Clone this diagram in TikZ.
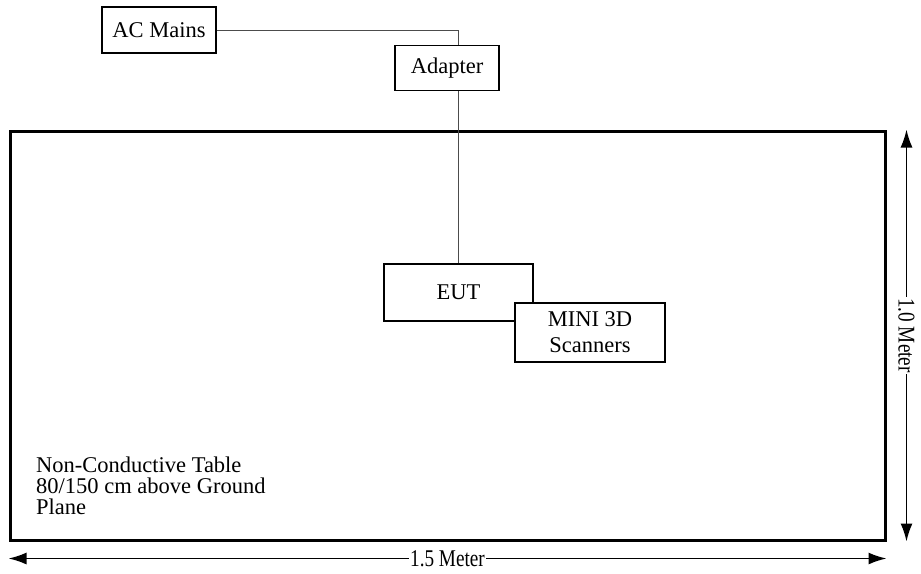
\documentclass[tikz,border=0pt]{standalone}
\usepackage{fontspec}
\setmainfont{Liberation Serif}
\newfontfamily\narrowfont[FakeStretch=0.8]{Liberation Serif}
\usetikzlibrary{arrows.meta, positioning}

\begin{document}
\begin{tikzpicture}[x=1pt, y=-1pt,
    unit/.style={rectangle, draw=black, line width=1.4pt, fill=white, align=center, inner sep=0pt, font=\fontsize{22.5}{26}\selectfont},
    table/.style={rectangle, draw=black, line width=3pt, inner sep=0pt},
    note/.style={align=left, inner sep=0pt, font=\fontsize{22.5}{21}\selectfont},
    wire/.style={draw=black!70, line width=0.9pt},
    dim/.style={{Latex[length=18pt,width=12pt]}-{Latex[length=18pt,width=12pt]}, line width=1.7pt},
    dimlabel/.style={fill=white, inner sep=1pt, font=\narrowfont\fontsize{24}{24}\selectfont}
]
    \useasboundingbox (0,0) rectangle (921,573);

    % the table
    \node[table, minimum width=875pt, minimum height=409pt] (table) at (447.5,335.5) {};
    \node[note, anchor=base west] (tablenote) at (36,514) {Non-Conductive Table\\80/150 cm above Ground\\Plane};

    % units
    \node[unit, minimum width=114pt, minimum height=46pt] (mains) at (159,30) {AC Mains};
    \node[unit, minimum width=104pt, minimum height=45pt] (adapter) at (447,68) {Adapter};
    \node[unit, minimum width=149pt, minimum height=57pt] (eut) at (458.5,292.5) {EUT};

    % cables
    \draw[wire] (mains.east) -| (eut.north |- adapter.north);
    \draw[wire] (eut.north |- adapter.south) -- (eut.north);

    \node[unit, minimum width=150pt, minimum height=59pt] (scanner) at (590,332.5) {MINI 3D\\Scanners};

    % dimensions
    \coordinate (widthstart) at ([yshift=-17pt]table.south west);
    \coordinate (widthend) at ([yshift=-17pt]table.south east);
    \coordinate (depthstart) at ([xshift=20pt]table.north east);
    \coordinate (depthend) at ([xshift=20pt]table.south east);
    \draw[dim] (widthstart) -- node[dimlabel] (widthlabel) {1.5 Meter} (widthend);
    \draw[dim] (depthstart) -- node[dimlabel, rotate=-90] (depthlabel) {1.0 Meter} (depthend);
\end{tikzpicture}
\end{document}
